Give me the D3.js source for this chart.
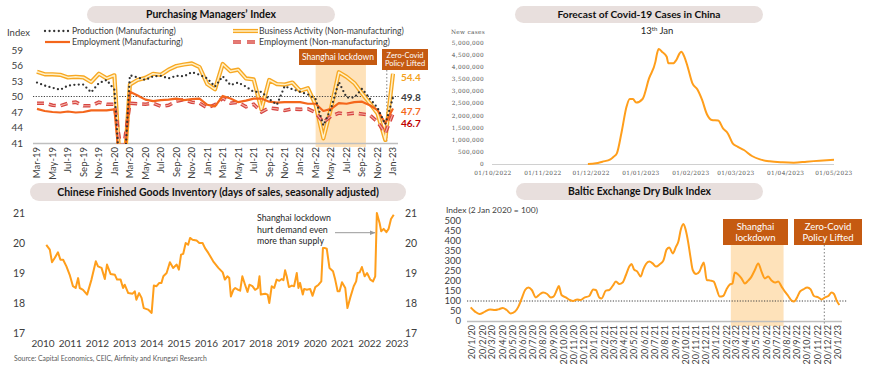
<!DOCTYPE html>
<html><head><meta charset="utf-8">
<script src="https://cdn.jsdelivr.net/npm/d3@7"></script>
<style>body{margin:0;background:#fff}svg{display:block;font-family:Lato,'Open Sans',sans-serif}</style>
</head><body><svg id="c" width="870" height="378"></svg>
<script>
// ---------- Purchasing Managers' Index ----------
const pmiMonths = ["Mar-19","Apr-19","May-19","Jun-19","Jul-19","Aug-19","Sep-19","Oct-19","Nov-19","Dec-19",
"Jan-20","Feb-20","Mar-20","Apr-20","May-20","Jun-20","Jul-20","Aug-20","Sep-20","Oct-20","Nov-20","Dec-20",
"Jan-21","Feb-21","Mar-21","Apr-21","May-21","Jun-21","Jul-21","Aug-21","Sep-21","Oct-21","Nov-21","Dec-21",
"Jan-22","Feb-22","Mar-22","Apr-22","May-22","Jun-22","Jul-22","Aug-22","Sep-22","Oct-22","Nov-22","Dec-22","Jan-23"];
const pmiProduction = [52.7,52.1,51.7,51.3,52.1,52.3,52.3,50.8,52.6,53.2,51.3,27.8,54.1,53.7,53.2,53.9,54.0,53.5,54.0,53.9,54.7,54.2,53.5,51.9,53.9,52.2,52.7,51.9,50.9,50.9,49.5,48.4,52.0,51.4,50.9,50.4,49.5,44.4,47.7,52.8,49.8,49.8,51.5,49.6,47.8,44.6,49.8];
const pmiEmpMfg = [47.6,47.2,47.0,46.9,47.1,46.9,47.0,47.3,47.3,47.3,47.5,31.8,50.9,50.2,49.4,49.1,49.3,49.4,49.6,49.3,49.5,49.6,48.4,48.1,50.1,49.6,48.9,49.2,49.6,49.6,49.0,48.8,48.9,48.9,48.9,48.6,48.6,47.2,47.6,48.7,48.6,48.9,49.0,48.3,47.4,44.8,47.7];
const pmiBizNonMfg = [54.8,54.3,54.3,54.2,53.7,53.8,53.7,52.8,54.4,53.5,54.1,29.6,52.3,53.2,53.6,54.4,54.2,55.2,55.9,56.2,56.4,55.7,52.4,51.4,56.3,54.9,55.2,53.5,53.3,47.5,53.2,52.4,52.3,52.7,51.1,51.6,48.4,41.9,47.8,54.7,53.8,52.6,50.6,48.7,46.7,41.6,54.4];
const pmiEmpNonMfg = [48.7,48.7,48.3,48.2,48.7,48.9,48.2,48.2,48.9,48.5,48.5,37.9,48.7,48.6,48.5,48.7,48.1,48.3,49.1,49.4,48.9,48.7,47.8,48.4,49.7,48.7,48.9,48.0,48.5,47.0,47.8,47.6,47.3,47.6,47.5,47.6,46.9,45.0,46.2,46.8,46.6,46.8,46.6,46.4,45.1,42.9,46.7];
const pmiTicks = [41,44,47,50,53,56,59];
const pmiLockdown = ["Mar-22","Sep-22"];
const pmiZeroCovid = "Dec-22";

// ---------- Covid-19 forecast ----------
const covDates = ["2022-11-29","2022-12-04","2022-12-08","2022-12-13","2022-12-15","2022-12-17","2022-12-20","2022-12-23","2022-12-25","2022-12-27","2022-12-29","2023-01-02","2023-01-06","2023-01-10","2023-01-11","2023-01-12","2023-01-14","2023-01-17","2023-01-18","2023-01-21","2023-01-23","2023-01-25","2023-01-26","2023-01-28","2023-01-30","2023-02-02","2023-02-05","2023-02-08","2023-02-11","2023-02-14","2023-02-18","2023-02-21","2023-02-24","2023-02-27","2023-03-02","2023-03-06","2023-03-11","2023-03-16","2023-03-22","2023-03-30","2023-04-06","2023-04-14","2023-04-22","2023-05-01"];
const covCases = [0,27000,96000,190000,300000,440000,1330000,2360000,2680000,2680000,2530000,2680000,3530000,4220000,4560000,4740000,4630000,4420000,4150000,4150000,4290000,4560000,4630000,4420000,4010000,3320000,3080000,2640000,2050000,1810000,1790000,1470000,1260000,850000,714000,577000,330000,190000,110000,69000,55000,96000,137000,180000];
const covTicks = [0,500000,1000000,1500000,2000000,2500000,3000000,3500000,4000000,4500000,5000000];
const covMonths = ["2022-10-01","2022-11-01","2022-12-01","2023-01-01","2023-02-01","2023-03-01","2023-04-01","2023-05-01"];

// ---------- Finished goods inventory ----------
const invTime = [2010.12,2010.25,2010.33,2010.43,2010.55,2010.64,2010.74,2010.86,2010.98,2011.10,2011.20,2011.29,2011.35,2011.47,2011.62,2011.78,2011.94,2012.02,2012.15,2012.27,2012.35,2012.48,2012.64,2012.72,2012.85,2012.94,2013.00,2013.13,2013.29,2013.37,2013.43,2013.53,2013.62,2013.70,2013.86,2013.99,2014.07,2014.17,2014.27,2014.35,2014.42,2014.54,2014.66,2014.78,2014.91,2014.99,2015.07,2015.15,2015.24,2015.33,2015.40,2015.49,2015.64,2015.74,2015.86,2015.95,2016.07,2016.25,2016.44,2016.60,2016.68,2016.77,2016.84,2016.90,2016.99,2017.06,2017.17,2017.24,2017.32,2017.42,2017.51,2017.58,2017.69,2017.79,2017.89,2017.95,2018.00,2018.16,2018.25,2018.31,2018.40,2018.49,2018.58,2018.68,2018.77,2018.83,2018.89,2018.95,2019.03,2019.14,2019.22,2019.32,2019.38,2019.44,2019.54,2019.59,2019.69,2019.81,2019.90,2020.00,2020.12,2020.22,2020.28,2020.36,2020.42,2020.52,2020.65,2020.73,2020.82,2020.89,2020.98,2021.10,2021.18,2021.28,2021.41,2021.50,2021.55,2021.63,2021.71,2021.81,2021.90,2022.02,2022.12,2022.20,2022.26,2022.36,2022.42,2022.51,2022.61,2022.69,2022.78,2022.88];
const invDays = [19.94,19.78,19.36,19.5,19.69,19.44,19.44,19.22,18.94,18.56,18.5,18.83,18.5,18.44,18.28,18.78,19.39,19.22,19.17,18.8,19.28,18.97,18.94,18.78,18.78,18.5,18.61,18.33,18.31,18.39,18.11,18.33,18.17,17.83,17.78,17.67,18.58,18.56,18.67,18.67,18.89,19.0,19.36,19.17,19.28,19.11,19.61,19.64,20.0,19.94,20.17,20.11,20.08,20.0,20.0,19.83,19.67,19.39,19.17,19.02,18.78,18.89,18.83,18.22,18.44,18.5,18.44,18.41,18.89,18.61,18.37,18.61,18.56,18.44,18.5,18.89,18.28,18.31,18.28,18.0,18.56,18.5,18.78,18.74,18.8,18.76,19.09,18.89,18.53,18.58,18.56,19.0,18.5,18.67,18.28,18.47,18.44,18.47,18.24,18.53,18.61,18.72,19.83,19.83,19.81,19.17,19.06,18.78,18.39,18.39,18.69,18.5,17.83,18.17,18.56,18.72,19.0,19.02,19.2,18.89,19.0,18.78,18.72,18.89,21.0,20.67,20.39,20.47,20.36,20.47,20.8,20.94];
const invTicks = [17,18,19,20,21];
const invYears = [2010,2011,2012,2013,2014,2015,2016,2017,2018,2019,2020,2021,2022,2023];

// ---------- Baltic Dry Index ----------
const bdiDates = ["2020-01-16","2020-01-29","2020-02-11","2020-02-28","2020-03-14","2020-03-29","2020-04-08","2020-04-21","2020-05-03","2020-05-15","2020-05-28","2020-06-07","2020-06-17","2020-06-27","2020-07-07","2020-07-17","2020-07-29","2020-08-11","2020-08-20","2020-09-01","2020-09-12","2020-09-20","2020-09-30","2020-10-06","2020-10-14","2020-10-27","2020-11-08","2020-11-18","2020-11-30","2020-12-10","2020-12-23","2021-01-05","2021-01-17","2021-01-25","2021-02-04","2021-02-11","2021-02-24","2021-03-06","2021-03-16","2021-03-26","2021-04-05","2021-04-15","2021-04-25","2021-05-05","2021-05-12","2021-05-19","2021-05-29","2021-06-08","2021-06-16","2021-06-24","2021-07-04","2021-07-14","2021-07-24","2021-08-05","2021-08-15","2021-08-25","2021-09-02","2021-09-12","2021-09-22","2021-09-29","2021-10-06","2021-10-14","2021-10-21","2021-10-28","2021-11-04","2021-11-11","2021-11-21","2021-12-01","2021-12-08","2021-12-14","2021-12-23","2022-01-03","2022-01-13","2022-01-21","2022-01-31","2022-02-10","2022-02-20","2022-03-02","2022-03-10","2022-03-17","2022-03-27","2022-04-06","2022-04-16","2022-04-26","2022-05-06","2022-05-16","2022-05-26","2022-06-05","2022-06-15","2022-06-25","2022-07-05","2022-07-15","2022-07-25","2022-08-04","2022-08-14","2022-08-24","2022-09-03","2022-09-10","2022-09-18","2022-09-28","2022-10-08","2022-10-20","2022-10-30","2022-11-09","2022-11-22","2022-12-02","2022-12-12","2022-12-22","2023-01-01","2023-01-08","2023-01-16","2023-01-24"];
const bdiValues = [68,47,35,47,58,55,58,65,55,38,47,72,113,155,167,155,118,135,142,135,118,122,155,175,130,118,105,100,108,105,118,125,158,155,118,113,152,155,175,197,185,192,230,272,285,258,247,222,258,285,297,288,272,285,302,358,368,338,372,397,455,485,455,397,322,255,235,247,275,292,205,202,197,163,122,125,158,182,188,242,233,213,188,202,222,255,288,247,213,222,202,192,197,172,147,125,102,97,113,147,158,168,158,125,118,108,118,125,142,135,102,80];
const bdiTicks = [0,50,100,150,200,250,300,350,400,450,500];
const bdiLockdown = ["2022-03-05","2022-08-10"];
const bdiZeroCovid = "2022-12-10";

// ================= drawing =================
const svg = d3.select('#c');
svg.append('rect').attr('width',870).attr('height',378).attr('fill','#fff');
const pd = d3.timeParse('%Y-%m-%d');
const DARK = '#404040', ORANGE = '#FF9E1B', BOX = '#C55A11', SHADE = '#FEE2BA';

function fit(t, w){ const l = t.node().getComputedTextLength(); if(l>0){ const fs = parseFloat(t.attr('font-size')); t.attr('font-size', (fs*w/l).toFixed(2)); } return t; }
function pill(x0,x1,y0,y1,label,w){
  svg.append('rect').attr('x',x0).attr('y',y0).attr('width',x1-x0).attr('height',y1-y0)
    .attr('rx',(y1-y0)/2).attr('fill','#E8DFDD');
  const t = svg.append('text').attr('x',(x0+x1)/2).attr('y',(y0+y1)/2).attr('dy','0.35em')
    .attr('text-anchor','middle').attr('font-weight','bold').attr('font-size',12).attr('fill','#111').text(label);
  fit(t,w);
}
function box(x0,x1,y0,y1,lines,fs,w){
  svg.append('rect').attr('x',x0).attr('y',y0).attr('width',x1-x0).attr('height',y1-y0).attr('fill',BOX);
  const n = lines.length, cy=(y0+y1)/2, lh = fs*1.1;
  lines.forEach((s,i)=>{
    const t = svg.append('text').attr('x',(x0+x1)/2).attr('y',cy+(i-(n-1)/2)*lh).attr('dy','0.35em')
      .attr('text-anchor','middle').attr('fill','#fff').attr('font-size',fs).text(s);
    if(w && i===0) fit(t,w);
  });
}

// ---------- Panel 1: PMI ----------
pill(87,335,6,23,"Purchasing Managers\u2019 Index",130);
const px = d3.scaleLinear().domain([0,pmiMonths.length-1]).range([37,393]);
const py = d3.scaleLinear().domain([41,59]).range([143,50]);
const idx = m => pmiMonths.indexOf(m);

svg.append('rect').attr('x',px(idx(pmiLockdown[0]))).attr('y',65)
  .attr('width',px(idx(pmiLockdown[1])+0.5)-px(idx(pmiLockdown[0]))).attr('height',82).attr('fill',SHADE);
box(299,377,49,65,["Shanghai lockdown"],10,72);
box(382,428,49,70,["Zero-Covid","Policy Lifted"],7.5,null);
svg.append('line').attr('x1',px(idx(pmiZeroCovid)+0.2)).attr('x2',px(idx(pmiZeroCovid)+0.2)).attr('y1',70).attr('y2',143)
  .attr('stroke','#7f7f7f').attr('stroke-width',1).attr('stroke-dasharray','1.5,2');

svg.append('text').attr('x',7).attr('y',36).attr('font-size',9.5).attr('fill',DARK).text('Index');
pmiTicks.forEach(v=>{
  svg.append('text').attr('x',23).attr('y',py(v)).attr('dy','0.35em').attr('text-anchor','end')
    .attr('font-size',10).attr('fill',DARK).text(v);
});
svg.append('line').attr('x1',33).attr('x2',398).attr('y1',143.5).attr('y2',143.5).attr('stroke','#BFBFBF').attr('stroke-width',1.5);
svg.append('line').attr('x1',33).attr('x2',400).attr('y1',py(50)).attr('y2',py(50)).attr('stroke',DARK).attr('stroke-width',1).attr('stroke-dasharray','1.2,1.5');
pmiMonths.forEach((m,i)=>{
  if(i%2) return;
  svg.append('text').attr('transform',`translate(${px(i)},147) rotate(-90)`).attr('dy','0.35em')
    .attr('text-anchor','end').attr('font-size',9.5).attr('fill',DARK).text(m);
});

svg.append('clipPath').attr('id','pmiClip').append('rect').attr('x',0).attr('y',40).attr('width',430).attr('height',104);
const gp = svg.append('g').attr('clip-path','url(#pmiClip)');
const pl = d3.line().x((d,i)=>px(i)).y(d=>py(d));
gp.append('path').attr('d',pl(pmiBizNonMfg)).attr('fill','none').attr('stroke','#F7A823').attr('stroke-width',4.2).attr('stroke-linejoin','round');
gp.append('path').attr('d',pl(pmiBizNonMfg)).attr('fill','none').attr('stroke','#FFF0C8').attr('stroke-width',1.5).attr('stroke-linejoin','round');
gp.append('path').attr('d',pl(pmiEmpNonMfg)).attr('fill','none').attr('stroke','#D64541').attr('stroke-width',3.6).attr('stroke-dasharray','7,5');
gp.append('path').attr('d',pl(pmiEmpNonMfg)).attr('fill','none').attr('stroke','#F3B0A6').attr('stroke-width',1.1).attr('stroke-dasharray','7,5');
gp.append('path').attr('d',pl(pmiEmpMfg)).attr('fill','none').attr('stroke','#F4661B').attr('stroke-width',2.2).attr('stroke-linejoin','round');
gp.append('path').attr('d',pl(pmiProduction)).attr('fill','none').attr('stroke','#333').attr('stroke-width',2.3).attr('stroke-linecap','round').attr('stroke-dasharray','0,4.4');

const last = pmiMonths.length-1;
[[pmiBizNonMfg[last],'#F5A21E',4],[pmiProduction[last],DARK,0],[pmiEmpMfg[last],'#F4661B',3],[pmiEmpNonMfg[last],'#C00000',10]].forEach(([v,c,o])=>{
  svg.append('text').attr('x',401).attr('y',py(v)+o).attr('dy','0.35em').attr('font-size',10).attr('font-weight','bold').attr('fill',c).text(v.toFixed(1));
});

function legSym(x,y,kind){
  const l = svg.append('g');
  const ln = ()=>l.append('line').attr('x1',x).attr('x2',x+25).attr('y1',y).attr('y2',y).attr('fill','none');
  if(kind==='dot') ln().attr('stroke','#333').attr('stroke-width',2.3).attr('stroke-linecap','round').attr('stroke-dasharray','0,4.6');
  if(kind==='solid') ln().attr('stroke','#F4661B').attr('stroke-width',2.2);
  if(kind==='double'){ ln().attr('stroke','#F7A823').attr('stroke-width',4.2); ln().attr('stroke','#FFF0C8').attr('stroke-width',1.5); }
  if(kind==='dash'){ ln().attr('stroke','#D64541').attr('stroke-width',3.6).attr('stroke-dasharray','8,6'); ln().attr('stroke','#F3B0A6').attr('stroke-width',1.1).attr('stroke-dasharray','8,6'); }
}
function legText(x,y,s,w){ fit(svg.append('text').attr('x',x).attr('y',y).attr('dy','0.35em').attr('font-size',10).attr('fill',DARK).text(s),w); }
legSym(45,31,'dot'); legText(72,31,'Production (Manufacturing)',104);
legSym(45,42,'solid'); legText(72,42,'Employment (Manufacturing)',111);
legSym(233,31,'double'); legText(259,31,'Business Activity (Non-manufacturing)',145);
legSym(233,42,'dash'); legText(259,42,'Employment (Non-manufacturing)',131);

// ---------- Panel 2: Covid forecast ----------
pill(515,763,6,23,"Forecast of Covid-19 Cases in China",163);
const cx = d3.scaleTime().domain([pd(covMonths[0]),pd(covMonths[covMonths.length-1])]).range([493,834]);
const cy = d3.scaleLinear().domain([0,5000000]).range([164,42.7]);
const fmtN = d3.format(',');
covTicks.forEach(v=>{
  svg.append('text').attr('x',484).attr('y',cy(v)).attr('dy','0.35em').attr('text-anchor','end')
    .attr('font-family','DejaVu Serif').attr('font-size',5.8).attr('letter-spacing',0.3).attr('fill','#595959').text(fmtN(v));
});
svg.append('text').attr('x',451).attr('y',32).attr('dy','0.35em').attr('font-family','DejaVu Serif').attr('font-size',5.8)
  .attr('letter-spacing',0.3).attr('fill','#595959').text('New cases');
svg.append('line').attr('x1',492).attr('x2',834).attr('y1',164.5).attr('y2',164.5).attr('stroke','#D0D0D0').attr('stroke-width',1);
const fmtD = d3.timeFormat('%d/%m/%Y');
covMonths.forEach(s=>{
  svg.append('text').attr('x',cx(pd(s))).attr('y',172.5).attr('dy','0.35em').attr('text-anchor','middle')
    .attr('font-family','DejaVu Serif').attr('font-size',5.8).attr('letter-spacing',0.4).attr('fill','#595959').text(fmtD(pd(s)));
});
const t13 = svg.append('text').attr('x',657).attr('y',34).attr('text-anchor','middle').attr('font-size',9.5).attr('fill','#262626');
t13.append('tspan').text('13');
t13.append('tspan').attr('dy',-3.5).attr('font-size',6).text('th');
t13.append('tspan').attr('dy',3.5).text(' Jan');
const cl = d3.line().x((d,i)=>cx(pd(covDates[i]))).y(d=>cy(d)).curve(d3.curveMonotoneX);
svg.append('path').attr('d',cl(covCases)).attr('fill','none').attr('stroke',ORANGE).attr('stroke-width',2).attr('stroke-linejoin','round');

// ---------- Panel 3: Inventory ----------
pill(30,406,183,201,"Chinese Finished Goods Inventory (days of sales, seasonally adjusted)",322);
const ix = d3.scaleLinear().domain([2010,2023]).range([43,397]);
const iy = d3.scaleLinear().domain([17,21]).range([333,213]);
invTicks.forEach(v=>{
  svg.append('text').attr('x',19).attr('y',iy(v)).attr('dy','0.35em').attr('text-anchor','middle').attr('font-size',10.5).attr('fill',DARK).text(v);
  svg.append('text').attr('x',411).attr('y',iy(v)).attr('dy','0.35em').attr('text-anchor','middle').attr('font-size',10.5).attr('fill',DARK).text(v);
});
invYears.forEach(y=>{
  svg.append('text').attr('x',ix(y)).attr('y',343).attr('dy','0.35em').attr('text-anchor','middle').attr('font-size',10).attr('fill',DARK).text(y);
});
const il = d3.line().x((d,i)=>ix(invTime[i])).y(d=>iy(d));
svg.append('path').attr('d',il(invDays)).attr('fill','none').attr('stroke',ORANGE).attr('stroke-width',2).attr('stroke-linejoin','round');
[["Shanghai lockdown",74],["hurt demand even",71],["more than supply",67]].forEach(([s,w],i)=>{
  const t = svg.append('text').attr('x',257).attr('y',218.3+i*11.2).attr('dy','0.35em').attr('font-size',10).attr('fill','#262626').text(s);
  fit(t,w);
});
svg.append('defs').append('marker').attr('id','arr').attr('viewBox','0 0 10 10').attr('refX',9).attr('refY',5)
  .attr('markerWidth',6).attr('markerHeight',6).attr('orient','auto')
  .append('path').attr('d','M0,1 L10,5 L0,9 Z').attr('fill','#999');
svg.append('line').attr('x1',335).attr('x2',375).attr('y1',232.7).attr('y2',232.7).attr('stroke','#999').attr('stroke-width',1).attr('marker-end','url(#arr)');
fit(svg.append('text').attr('x',14).attr('y',359).attr('dy','0.35em').attr('font-size',7).attr('fill','#595959')
  .text('Source: Capital Economics, CEIC, Airfinity and Krungsri Research'),193);

// ---------- Panel 4: Baltic Dry Index ----------
pill(516,763,183,200,"Baltic Exchange Dry Bulk Index",143);
const bx = d3.scaleTime().domain([new Date(2020,0,20),new Date(2023,0,20)]).range([472,838]);
const by = d3.scaleLinear().domain([0,500]).range([321,221]);
fit(svg.append('text').attr('x',446).attr('y',210).attr('dy','0.35em').attr('font-size',10).attr('fill',DARK).text('Index (2 Jan 2020 = 100)'),92);
svg.append('rect').attr('x',bx(pd(bdiLockdown[0]))).attr('y',245).attr('width',bx(pd(bdiLockdown[1]))-bx(pd(bdiLockdown[0]))).attr('height',81).attr('fill',SHADE);
box(723,788,219,245,["Shanghai","lockdown"],9.5,null);
box(794,862,219,245,["Zero-Covid","Policy Lifted"],9.5,null);
svg.append('line').attr('x1',bx(pd(bdiZeroCovid))).attr('x2',bx(pd(bdiZeroCovid))).attr('y1',245).attr('y2',326)
  .attr('stroke','#7f7f7f').attr('stroke-width',1).attr('stroke-dasharray','1.5,2');
bdiTicks.forEach(v=>{
  svg.append('text').attr('x',461).attr('y',by(v)).attr('dy','0.35em').attr('text-anchor','end').attr('font-size',9.5).attr('fill',DARK).text(v);
});
svg.append('line').attr('x1',467).attr('x2',842).attr('y1',321.5).attr('y2',321.5).attr('stroke','#BFBFBF').attr('stroke-width',1.5);
svg.append('line').attr('x1',467).attr('x2',847).attr('y1',by(100)).attr('y2',by(100)).attr('stroke',DARK).attr('stroke-width',1).attr('stroke-dasharray','1.2,1.5');
const fmtB = d3.timeFormat('%-d/%-m/%y');
d3.timeMonth.range(new Date(2020,0,1),new Date(2023,1,1)).forEach(m=>{
  const d = new Date(m.getFullYear(),m.getMonth(),20);
  svg.append('text').attr('transform',`translate(${bx(d)},325) rotate(-90)`).attr('dy','0.35em')
    .attr('text-anchor','end').attr('font-size',9).attr('fill',DARK).text(fmtB(d));
});
const bl = d3.line().x((d,i)=>bx(pd(bdiDates[i]))).y(d=>by(d)).curve(d3.curveMonotoneX);
svg.append('path').attr('d',bl(bdiValues)).attr('fill','none').attr('stroke',ORANGE).attr('stroke-width',2).attr('stroke-linejoin','round');
</script></body></html>
